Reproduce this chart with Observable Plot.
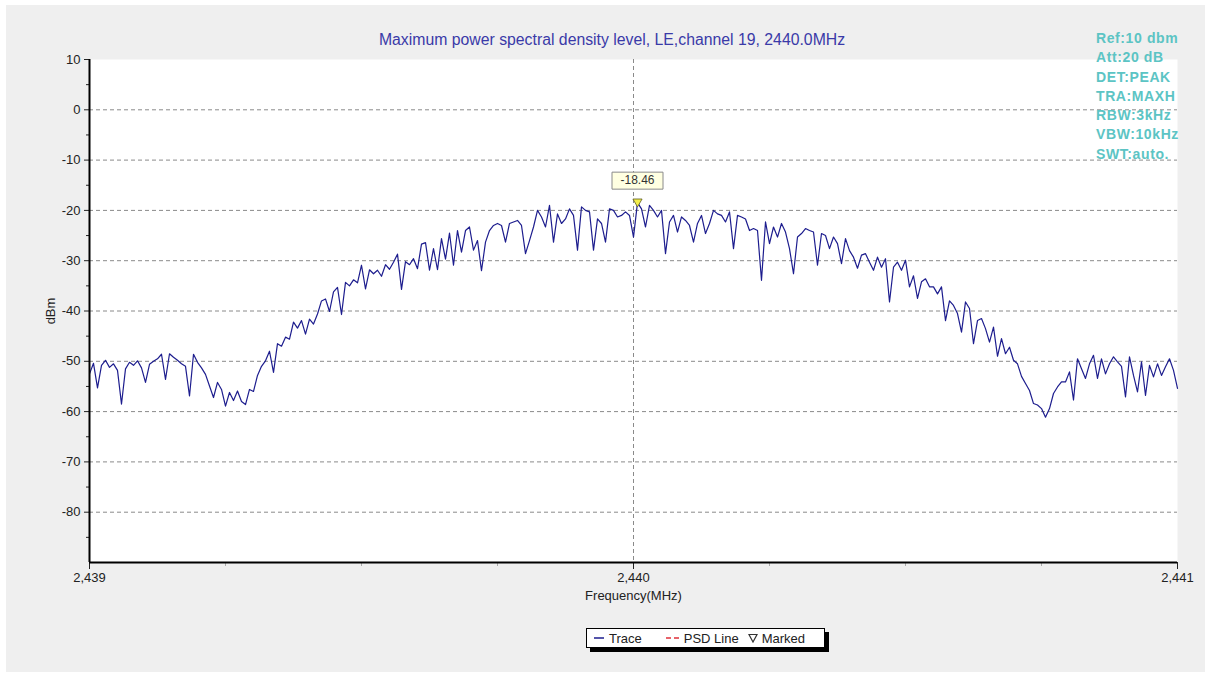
<!DOCTYPE html>
<html>
<head>
<meta charset="utf-8">
<script src="https://cdn.jsdelivr.net/npm/d3@7"></script>
<script src="https://cdn.jsdelivr.net/npm/@observablehq/plot@0.6"></script>
<style>
  body { margin: 0; background: #ffffff; font-family: Arial, "Liberation Sans", sans-serif; }
  #panel { position: absolute; left: 6px; top: 5px; width: 1199px; height: 667px; background: #efefef; }
  #chart { position: absolute; left: 0; top: 0; }
  #title { position: absolute; top: 31px; left: 612px; transform: translateX(-50%); white-space: nowrap;
           color: #3a3aa8; font-size: 15.8px; }
  #notes { position: absolute; left: 1096px; top: 29px; color: #5cc4c4; font-size: 14px; font-weight: bold;
           line-height: 19.3px; letter-spacing: 0.6px; white-space: nowrap; }
  #legend { position: absolute; left: 586px; top: 628px; width: 237px; height: 18px; background: #fff;
            border: 1px solid #000; box-shadow: 4px 4px 0 #000; font-size: 13px; color: #222;
            display: flex; align-items: center; white-space: nowrap; }
  #legend .item { display: flex; align-items: center; margin-left: 6px; }
  #legend .sw { margin-right: 4px; }
</style>
</head>
<body>
<div id="panel"></div>
<div id="chart"></div>
<div id="title"></div>
<div id="notes"></div>
<div id="legend"></div>
<script>
// ---------------- data ----------------
const chartTitle = "Maximum power spectral density level, LE,channel 19, 2440.0MHz";
const freqStart = 2439;
const freqEnd = 2441;
const xTicks = [2439, 2440, 2441];
const xMinorTicks = [2439.25, 2439.5, 2439.75, 2440.25, 2440.5, 2440.75];
const yTicks = [10, 0, -10, -20, -30, -40, -50, -60, -70, -80];
const yMinorTicks = [5, -5, -15, -25, -35, -45, -55, -65, -75, -85];
const yGrid = [0, -10, -20, -30, -40, -50, -60, -70, -80];
const xGrid = [2440];
const markerLevel = -18.46;
const settings = ["Ref:10 dbm", "Att:20 dB", "DET:PEAK", "TRA:MAXH", "RBW:3kHz", "VBW:10kHz", "SWT:auto."];
const legendItems = ["Trace", "PSD Line", "Marked"];

// trace levels (dBm), evenly spaced sweep points from 2439 to 2441 MHz
const traceLow = [
  -52.5,-50.4,-55.3,-50.8,-49.8,-51.2,-50.5,-51.8,-58.5,-51.5,
  -50.2,-50.8,-49.9,-51.3,-54.2,-50.6,-50.0,-49.5,-48.6,-53.6,
  -48.5,-49.2,-49.8,-50.5,-51.0,-56.9,-48.6,-50.2,-51.3,-52.6,
  -54.9,-57.2,-54.2,-55.6,-58.9,-56.2,-57.8,-55.9,-58.0,-58.6,
  -55.6,-56.0,-52.8,-51.0,-49.9,-48.0,-52.2,-46.5,-47.0,-45.2,
  -45.6,-42.2,-43.4,-41.9,-44.6,-41.6,-42.6,-40.6,-38.0,-37.6,
  -40.1,-36.2,-35.3,-40.7,-34.3,-35.0,-33.8,-34.4,-30.9,-35.6,
  -31.8,-32.6,-31.9,-33.1,-30.8,-31.7,-30.3,-28.7,-35.7,-30.2,
  -30.8,-29.6,-31.6,-26.7,-26.4,-31.9,-27.6,-31.8,-25.6,-29.7,
  -24.5
];
const traceMid = [
  -30.9,-24.0,-28.3,-24.0,-23.3,-27.9,-26.0,-32.0,-26.3,-24.0,
  -23.0,-22.6,-23.0,-26.3,-22.6,-22.3,-22.0,-23.0,-28.6,-26.0,
  -23.3,-20.0,-21.3,-23.3,-19.0,-26.3,-20.7,-22.6,-21.7,-19.7,
  -21.0,-27.9,-19.3,-20.0,-20.3,-27.9,-21.7,-22.6,-26.3,-19.7,
  -20.0,-21.3,-21.0,-20.3,-21.0,-25.3,-18.46,-19.7,-23.3,-19.0,
  -20.0,-21.3,-20.0,-28.6,-22.3,-21.0,-24.3,-21.3,-22.0,-23.0,
  -26.3,-22.6,-21.0,-24.6,-22.6,-20.0,-20.7,-21.0,-22.3,-20.3,
  -27.6,-21.0,-21.3,-21.7,-24.0,-23.6,-24.0,-33.9,-22.3,-26.6,
  -23.3,-25.3,-22.6,-24.3,-27.6,-32.6,-25.3,-24.6,-23.6,-24.0,
  -24.3
];
const traceHigh = [
  -30.9,-24.6,-25.0,-27.6,-25.3,-26.6,-30.6,-25.6,-28.0,-29.3,
  -31.5,-28.9,-28.6,-30.3,-31.9,-29.3,-31.3,-29.6,-38.2,-31.3,
  -30.3,-31.9,-29.9,-35.2,-33.0,-37.5,-34.2,-33.6,-35.2,-35.2,
  -36.6,-35.2,-41.9,-38.0,-38.9,-40.5,-44.2,-38.2,-39.5,-46.5,
  -41.9,-41.5,-43.5,-46.2,-43.2,-49.0,-45.5,-48.5,-47.2,-49.8,
  -50.5,-53.0,-54.4,-55.8,-58.4,-58.7,-59.4,-61.1,-59.4,-56.4,
  -55.1,-54.1,-54.1,-52.1,-57.7,-49.5,-51.5,-53.4,-50.5,-48.8,
  -53.4,-49.5,-52.5,-50.5,-49.1,-50.1,-51.0,-57.1,-49.1,-52.8,
  -56.1,-50.1,-56.8,-50.8,-53.1,-50.5,-52.8,-51.1,-49.5,-51.8,
  -55.4
];

// ---------------- build ----------------
const levels = [...traceLow, ...traceMid, ...traceHigh];
const n = levels.length;
const trace = levels.map((v, i) => ({f: freqStart + i * (freqEnd - freqStart) / (n - 1), v}));
const peakIndex = d3.maxIndex(trace, d => d.v);
const peak = [{f: trace[peakIndex].f, v: markerLevel}];

const fmt = d3.format(",");
const font = "Arial, 'Liberation Sans', sans-serif";

// box-shaped symbol for the marker read-out label
const labelBox = {draw(ctx) { ctx.moveTo(-25.5, -8.5); ctx.lineTo(25.5, -8.5); ctx.lineTo(25.5, 8.5); ctx.lineTo(-25.5, 8.5); ctx.closePath(); }};

const chart = Plot.plot({
  width: 1211,
  height: 620,
  marginLeft: 89,
  marginRight: 34,
  marginTop: 59,
  marginBottom: 58,
  style: {background: "transparent", fontFamily: font, color: "#222", overflow: "visible"},
  x: {domain: [freqStart, freqEnd]},
  y: {domain: [-90, 10]},
  marks: [
    Plot.frame({fill: "#ffffff", stroke: "none"}),
    Plot.gridY(yGrid, {stroke: "#8a8a8a", strokeOpacity: 1, strokeDasharray: "4,3"}),
    Plot.gridX(xGrid, {stroke: "#8a8a8a", strokeOpacity: 1, strokeDasharray: "4,3"}),
    Plot.axisY(yTicks, {tickSize: 5, tickPadding: 4, fontSize: 13, tickFormat: d => String(d),
      label: "dBm", labelAnchor: "center", labelArrow: "none", labelOffset: 44}),
    Plot.axisY(yMinorTicks, {tickSize: 3, fill: "none", label: null}),
    Plot.axisX(xTicks, {tickSize: 7, tickPadding: 3, fontSize: 13, tickFormat: fmt,
      label: "Frequency(MHz)", labelAnchor: "center", labelArrow: "none", labelOffset: 37}),
    Plot.axisX(xMinorTicks, {tickSize: 4, stroke: "#aaa", fill: "none", label: null}),
    Plot.line(trace, {x: "f", y: "v", stroke: "#1d1d8e", strokeWidth: 1.2}),
    Plot.ruleX([freqStart], {stroke: "#000", strokeWidth: 2}),
    Plot.ruleY([-90], {stroke: "#000", strokeWidth: 2}),
    Plot.dot(peak, {x: "f", y: "v", symbol: "triangle", r: 3.4, rotate: 180, dy: -1,
      fill: "#f3ee4c", stroke: "#5a5a20", strokeWidth: 0.8}),
    Plot.dot(peak, {x: "f", y: "v", symbol: labelBox, dy: -22, fill: "#ffffe1", stroke: "#8a8a8a", strokeWidth: 1}),
    Plot.text(peak, {x: "f", y: "v", text: d => d.v.toFixed(2), dy: -22, fontSize: 12, fill: "#333"})
  ]
});
document.getElementById("chart").appendChild(chart);

document.getElementById("title").textContent = chartTitle;
document.getElementById("notes").innerHTML = settings.map(s => `<div>${s}</div>`).join("");

const legend = document.getElementById("legend");
legend.innerHTML =
  `<div class="item"><svg class="sw" width="12" height="10"><line x1="1" y1="5" x2="11" y2="5" stroke="#1d1d8e" stroke-width="1.5"/></svg>${legendItems[0]}</div>` +
  `<div class="item" style="margin-left:24px"><svg class="sw" width="14" height="10"><line x1="0" y1="5" x2="14" y2="5" stroke="#e0303a" stroke-width="1.6" stroke-dasharray="5,3"/></svg>${legendItems[1]}</div>` +
  `<div class="item" style="margin-left:9px"><svg class="sw" width="10" height="10"><path d="M1,1.5 L9,1.5 L5,9 Z" fill="none" stroke="#333" stroke-width="1.2"/></svg>${legendItems[2]}</div>`;
</script>
</body>
</html>
